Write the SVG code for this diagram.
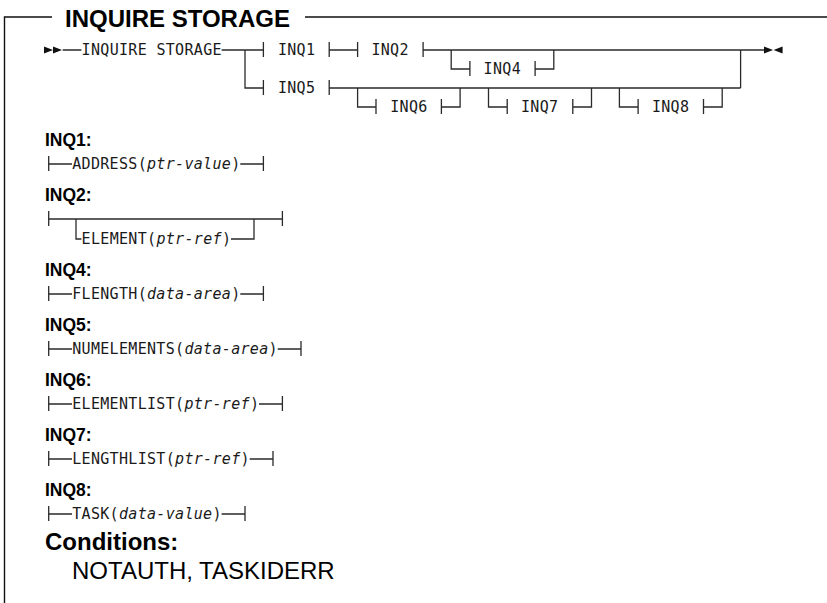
<svg xmlns="http://www.w3.org/2000/svg" width="827" height="603" viewBox="0 0 827 603">
<style>
.ln{fill:none;stroke:#2a2a2a;stroke-width:1.3}
.fr{fill:none;stroke:#111;stroke-width:1.4}
.mono{font-family:"DejaVu Sans Mono","Liberation Mono",monospace;font-size:15px;letter-spacing:0.32px;fill:#1a1a1a}
.it{font-style:italic}
.hd{font-family:"Liberation Sans",Arial,sans-serif;font-weight:bold;font-size:17.5px;fill:#000}
.ttl{font-family:"Liberation Sans",Arial,sans-serif;font-weight:bold;font-size:24px;fill:#000}
.cond{font-family:"Liberation Sans",Arial,sans-serif;font-size:24px;fill:#000}
.ah{fill:#111}
</style>
<rect width="827" height="603" fill="#fff"/>

<g id="frame">
<path class="fr" d="M4.5,603 V17 H52 M305,17 H827"/>
<text class="ttl" x="65" y="27">INQUIRE STORAGE</text>
</g>

<g id="connectors">
<path class="ln" d="M62.7,50 H81.4 M221.6,50 H263.4 M263.4,42 V57"/>
<path class="ln" d="M245,50 V88 H263.4 M263.4,80 V95"/>
<path class="ln" d="M329.2,42 V57 M329.2,50 H357.6 M357.6,42 V57"/>
<path class="ln" d="M423.1,42 V57 M423.1,50 H764"/>
<path class="ln" d="M451.2,50 V69 H469.9 M469.9,61 V76 M535.1,61 V76 M535.1,69 H553.8 V50"/>
<path class="ln" d="M740.6,50 V88"/>
<path class="ln" d="M329.2,80 V95 M329.2,88 H740.6"/>
<path class="ln" d="M357.6,88 V107 H376 M376,99 V114 M441.4,99 V114 M441.4,107 H460.1 V88"/>
<path class="ln" d="M488.5,88 V107 H507.2 M507.2,99 V114 M572.8,99 V114 M572.8,107 H591.5 V88"/>
<path class="ln" d="M619.4,88 V107 H638.1 M638.1,99 V114 M703.5,99 V114 M703.5,107 H722.2 V88"/>
<path class="ln" d="M48.7,156 V171 M48.7,164 H72 M240.3,164 H263.4 M263.4,156 V171"/>
<path class="ln" d="M48.7,211 V226 M48.7,219 H282.4 M282.4,211 V226 M76,219 V239 H81.4 M231,239 H254 V219"/>
<path class="ln" d="M48.7,286 V301 M48.7,294 H72 M240.3,294 H263.4 M263.4,286 V301"/>
<path class="ln" d="M48.7,341 V356 M48.7,349 H72 M277.7,349 H301 M301,341 V356"/>
<path class="ln" d="M48.7,396 V411 M48.7,404 H72 M259,404 H282.4 M282.4,396 V411"/>
<path class="ln" d="M48.7,451 V466 M48.7,459 H72 M249.7,459 H273 M273,451 V466"/>
<path class="ln" d="M48.7,506 V521 M48.7,514 H72 M221.6,514 H245 M245,506 V521"/>
</g>

<g id="start">
<path class="ah" d="M44,46.5 V53.5 L53,50 Z M53,46.5 V53.5 L62,50 Z"/>
</g>
<g id="end">
<path class="ah" d="M764,46.5 V53.5 L773,50 Z M782.6,46.5 V53.5 L773.6,50 Z"/>
</g>

<g id="cmd"><text class="mono" x="81.6" y="55.3">INQUIRE STORAGE</text></g>
<g id="n-inq1"><text class="mono" x="277.9" y="55.3">INQ1</text></g>
<g id="n-inq2"><text class="mono" x="371.4" y="55.3">INQ2</text></g>
<g id="n-inq4"><text class="mono" x="483.6" y="74.3">INQ4</text></g>
<g id="n-inq5"><text class="mono" x="277.9" y="93.3">INQ5</text></g>
<g id="n-inq6"><text class="mono" x="390.2" y="112.3">INQ6</text></g>
<g id="n-inq7"><text class="mono" x="521" y="112.3">INQ7</text></g>
<g id="n-inq8"><text class="mono" x="651.9" y="112.3">INQ8</text></g>

<g id="def-inq1">
<text class="hd" x="45" y="146">INQ1:</text>
<text class="mono" x="72.2" y="169.3">ADDRESS(<tspan class="it">ptr-value</tspan>)</text>
</g>
<g id="def-inq2">
<text class="hd" x="45" y="201">INQ2:</text>
<text class="mono" x="81.6" y="244.3">ELEMENT(<tspan class="it">ptr-ref</tspan>)</text>
</g>
<g id="def-inq4">
<text class="hd" x="45" y="276">INQ4:</text>
<text class="mono" x="72.2" y="299.3">FLENGTH(<tspan class="it">data-area</tspan>)</text>
</g>
<g id="def-inq5">
<text class="hd" x="45" y="331">INQ5:</text>
<text class="mono" x="72.2" y="354.3">NUMELEMENTS(<tspan class="it">data-area</tspan>)</text>
</g>
<g id="def-inq6">
<text class="hd" x="45" y="386">INQ6:</text>
<text class="mono" x="72.2" y="409.3">ELEMENTLIST(<tspan class="it">ptr-ref</tspan>)</text>
</g>
<g id="def-inq7">
<text class="hd" x="45" y="441">INQ7:</text>
<text class="mono" x="72.2" y="464.3">LENGTHLIST(<tspan class="it">ptr-ref</tspan>)</text>
</g>
<g id="def-inq8">
<text class="hd" x="45" y="496">INQ8:</text>
<text class="mono" x="72.2" y="519.3">TASK(<tspan class="it">data-value</tspan>)</text>
</g>
<g id="conditions">
<text class="ttl" x="45" y="550">Conditions:</text>
<text class="cond" x="72" y="579">NOTAUTH, TASKIDERR</text>
</g>
</svg>
